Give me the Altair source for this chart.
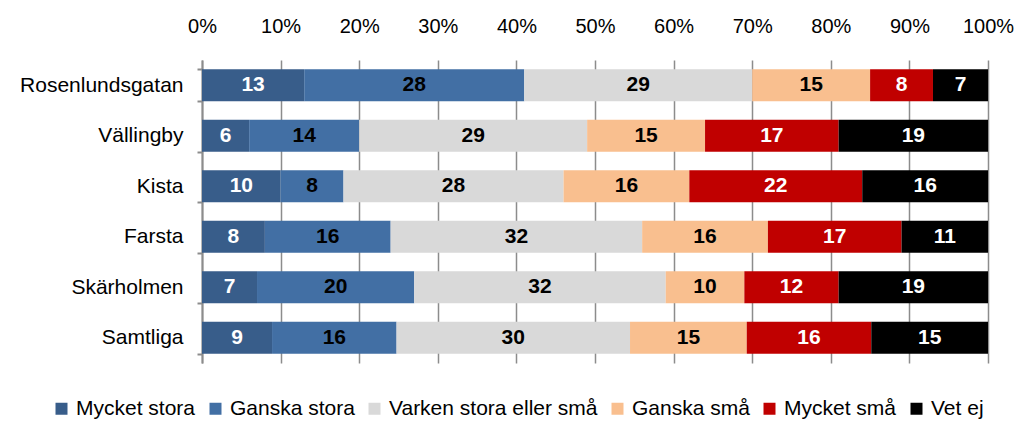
import altair as alt
import pandas as pd

categories = ["Rosenlundsgatan", "Vällingby", "Kista", "Farsta", "Skärholmen", "Samtliga"]
series = ["Mycket stora", "Ganska stora", "Varken stora eller små", "Ganska små", "Mycket små", "Vet ej"]
mycket_stora = [13, 6, 10, 8, 7, 9]
ganska_stora = [28, 14, 8, 16, 20, 16]
varken = [29, 29, 28, 32, 32, 30]
ganska_sma = [15, 15, 16, 16, 10, 15]
mycket_sma = [8, 17, 22, 17, 12, 16]
vet_ej = [7, 19, 16, 11, 19, 15]
colors = ["#385D8A", "#426FA4", "#D9D9D9", "#F9BF8F", "#C00000", "#000000"]
x_ticks = [0, 0.1, 0.2, 0.3, 0.4, 0.5, 0.6, 0.7, 0.8, 0.9, 1.0]

cols = [mycket_stora, ganska_stora, varken, ganska_sma, mycket_sma, vet_ej]
rows = []
for si, (s, vals) in enumerate(zip(series, cols)):
    for c, v in zip(categories, vals):
        rows.append({"cat": c, "svar": s, "val": v, "ord": si})
df = pd.DataFrame(rows)

FONT = "Liberation Sans"

base = alt.Chart(df).transform_stack(
    stack="val", groupby=["cat"], as_=["x0", "x1"], offset="normalize",
    sort=[alt.SortField(field="ord", order="ascending")]
).transform_calculate(xm="(datum.x0 + datum.x1) / 2")

xaxis = alt.Axis(orient="top", format="%", values=x_ticks, title=None, domain=False, ticks=False,
                 grid=True, gridColor="#8C8C8C", gridWidth=1.5, labelFontSize=20, labelFont=FONT,
                 labelColor="#000000", labelPadding=24, labelFlush=False)
yenc = alt.Y("cat:N", sort=categories, title=None,
             scale=alt.Scale(paddingInner=0.37, paddingOuter=0.185),
             axis=alt.Axis(domainColor="#8C8C8C", domainWidth=2, tickColor="#8C8C8C", tickWidth=2,
                           tickSize=5, tickBand="extent", labelFontSize=21, labelFont=FONT,
                           labelColor="#000000", labelPadding=14, labelLimit=300))

bars = base.mark_bar().encode(
    y=yenc,
    x=alt.X("x0:Q", scale=alt.Scale(domain=[0, 1], nice=False), axis=xaxis),
    x2="x1:Q",
    color=alt.Color("svar:N", scale=alt.Scale(domain=series, range=colors), sort=series,
                    legend=alt.Legend(orient="none", legendX=-151, legendY=338, direction="horizontal",
                                      title=None, symbolType="square", symbolSize=144,
                                      symbolStrokeWidth=0, symbolOpacity=1, labelFontSize=21,
                                      labelFont=FONT, labelColor="#000000", labelOffset=4,
                                      columnPadding=9, labelLimit=400)),
)

text = base.mark_text(fontWeight="bold", fontSize=21, font=FONT).encode(
    y=alt.Y("cat:N", sort=categories),
    x=alt.X("xm:Q", axis=xaxis),
    text=alt.Text("val:Q"),
    color=alt.condition(alt.FieldOneOfPredicate(field="svar", oneOf=["Mycket stora", "Mycket små", "Vet ej"]),
                        alt.value("#FFFFFF"), alt.value("#000000")),
)

chart = alt.layer(bars, text).properties(
    width=786, height=303,
    padding={"left": 194, "top": 52, "right": 26, "bottom": 57},
    autosize=alt.AutoSizeParams(type="none"),
).configure_view(stroke=None)

chart.save("out.html", embed_options={"renderer": "svg", "actions": False})
